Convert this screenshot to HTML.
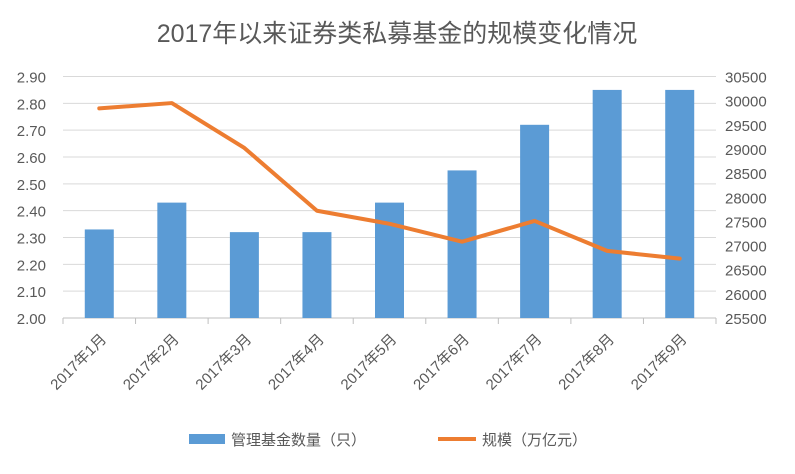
<!DOCTYPE html>
<html><head><meta charset="utf-8"><style>
body{margin:0;background:#fff;}
svg text{font-family:"Liberation Sans","Noto Sans CJK SC",sans-serif;fill:#595959;}
</style></head><body>
<svg width="795" height="469" id="c" xmlns="http://www.w3.org/2000/svg">
<text x="397" y="42" text-anchor="middle" font-size="25">2017年以来证券类私募基金的规模变化情况</text>
</svg>
<script>
const categories=["2017年1月","2017年2月","2017年3月","2017年4月","2017年5月","2017年6月","2017年7月","2017年8月","2017年9月"];
const fundCounts=[2.33,2.43,2.32,2.32,2.43,2.55,2.72,2.85,2.85];
const scale=[29840,29950,29020,27720,27450,27080,27510,26890,26730];
const leftTicks=["2.00","2.10","2.20","2.30","2.40","2.50","2.60","2.70","2.80","2.90"];
const rightTicks=["25500","26000","26500","27000","27500","28000","28500","29000","29500","30000","30500"];
const NS="http://www.w3.org/2000/svg";
const svg=document.getElementById('c');
const X0=63,X1=716,Y0=318,Y1=76.5;
const yL=v=>Y0-(v-2.0)/0.9*(Y0-Y1);
const yR=v=>Y0-(v-25500)/5000*(Y0-Y1);
const step=(X1-X0)/categories.length;
const xC=i=>X0+step*(i+0.5);
function mk(t,a){const e=document.createElementNS(NS,t);for(const k in a)e.setAttribute(k,a[k]);svg.appendChild(e);return e;}
leftTicks.forEach(t=>{const y=yL(parseFloat(t));
 const g=mk('line',{x1:X0,x2:X1,y1:y,y2:y,stroke:parseFloat(t)===2?'#bfbfbf':'#d9d9d9','stroke-width':1});
 
 
 const l=mk('text',{x:46,y:y+6,'text-anchor':'end','font-size':15});l.textContent=t;
 
 
});
rightTicks.forEach(t=>{const y=yR(parseFloat(t));
 const l=mk('text',{x:725,y:y+6,'font-size':15});l.textContent=t;
 
 
});
for(let i=0;i<=categories.length;i++){const x=X0+step*i;
 const t=mk('line',{x1:x,x2:x,y1:Y0,y2:Y0+6,stroke:'#bfbfbf'});
 
 }
fundCounts.forEach((v,i)=>{const y=yL(v);
 const b=mk('rect',{x:xC(i)-14.5,y:y,width:29,height:Y0-y,fill:'#5b9bd5'});
 
 });
const pl=mk('polyline',{points:scale.map((v,i)=>xC(i)+','+yR(v)).join(' '),fill:'none',stroke:'#ed7d31','stroke-width':4,'stroke-linejoin':'round','stroke-linecap':'round'});


categories.forEach((c,i)=>{const x=xC(i)+8,y=Y0+22;
 const t=mk('text',{x:x,y:y,'text-anchor':'end','font-size':15,transform:`rotate(-45 ${x} ${y})`});t.textContent=c;
 
 });
const r=mk('rect',{x:189,y:434,width:36,height:10,fill:'#5b9bd5'});


const t1=mk('text',{x:231,y:445,'font-size':15});t1.textContent='管理基金数量（只）';


const ll=mk('line',{x1:438,x2:476,y1:439,y2:439,stroke:'#ed7d31','stroke-width':4});


const t2=mk('text',{x:482,y:445,'font-size':15});t2.textContent='规模（万亿元）';


</script>
</body></html>
